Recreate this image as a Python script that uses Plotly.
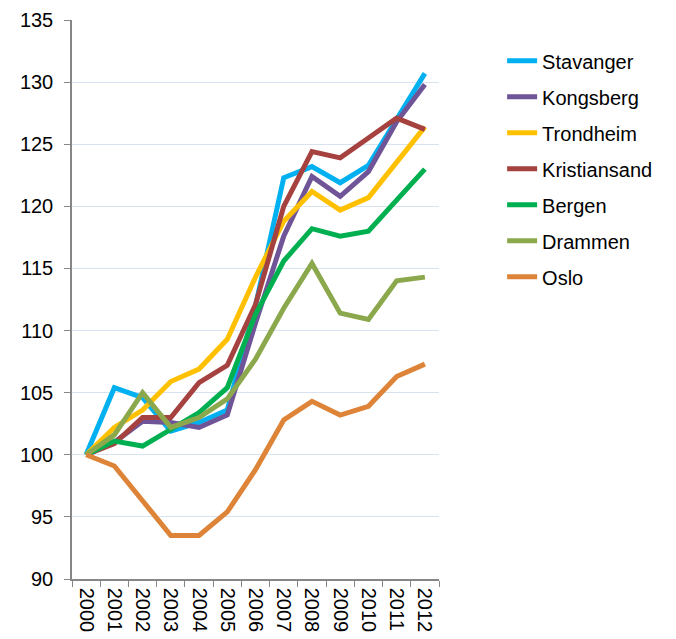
import plotly.graph_objects as go

years = [str(y) for y in range(2000, 2013)]

stavanger    = [100, 105.4, 104.6, 101.9, 102.6, 103.6, 112.0, 122.3, 123.2, 121.9, 123.3, 127.0, 130.7]
kongsberg    = [100, 101.0, 102.7, 102.6, 102.2, 103.2, 110.6, 117.6, 122.4, 120.8, 122.8, 126.8, 129.8]
trondheim    = [100, 102.2, 103.6, 105.9, 106.9, 109.3, 114.3, 118.8, 121.2, 119.7, 120.7, 123.5, 126.4]
kristiansand = [100, 100.9, 103.0, 103.0, 105.8, 107.2, 112.1, 120.0, 124.4, 123.9, 125.5, 127.1, 126.2]
bergen       = [100, 101.1, 100.7, 102.1, 103.4, 105.4, 111.3, 115.6, 118.2, 117.6, 118.0, 120.5, 123.0]
drammen      = [100, 101.6, 105.0, 102.2, 103.0, 104.5, 107.7, 111.8, 115.4, 111.4, 110.9, 114.0, 114.3]
oslo         = [100, 99.1, 96.3, 93.5, 93.5, 95.4, 98.8, 102.8, 104.3, 103.2, 103.9, 106.3, 107.3]

series = [
    ("Stavanger", stavanger, "#00B0F0"),
    ("Kongsberg", kongsberg, "#6F5597"),
    ("Trondheim", trondheim, "#FFC000"),
    ("Kristiansand", kristiansand, "#A5423F"),
    ("Bergen", bergen, "#00B050"),
    ("Drammen", drammen, "#8CA84D"),
    ("Oslo", oslo, "#DD8438"),
]

y_ticks = [90, 95, 100, 105, 110, 115, 120, 125, 130, 135]

fig = go.Figure()
for i, (name, vals, col) in enumerate(series):
    fig.add_trace(go.Scatter(
        x=years, y=vals, name=name, mode="lines",
        line=dict(color=col, width=5),
        legendgroup=f"g{i}",
    ))

fig.update_layout(
    width=676, height=639,
    margin=dict(l=64, r=245, t=12, b=68),
    paper_bgcolor="white", plot_bgcolor="white",
    font=dict(family="Liberation Sans, Arial, sans-serif", size=20, color="black"),
    legend=dict(
        x=1.172, xanchor="left", y=0.962, yanchor="top",
        font=dict(size=20), tracegroupgap=7,
        bgcolor="rgba(0,0,0,0)",
    ),
    showlegend=True,
)
fig.update_xaxes(
    type="category", range=[-0.5, 12.5], automargin=False,
    tickson="boundaries", ticks="outside", ticklen=6, tickcolor="#868686",
    showline=True, linecolor="#868686", linewidth=1.5,
    showgrid=False, tickangle=90, tickfont=dict(size=20),
    ticklabelstandoff=3,
)
fig.update_yaxes(
    range=[90, 135], tickvals=y_ticks, automargin=False,
    ticks="outside", ticklen=6, tickcolor="#868686",
    showline=True, linecolor="#868686", linewidth=1.5,
    showgrid=True, gridcolor="#D9E2F0", gridwidth=1.3,
    zeroline=False, tickfont=dict(size=20),
    ticklabelstandoff=7,
)

fig.write_html("out.html")
